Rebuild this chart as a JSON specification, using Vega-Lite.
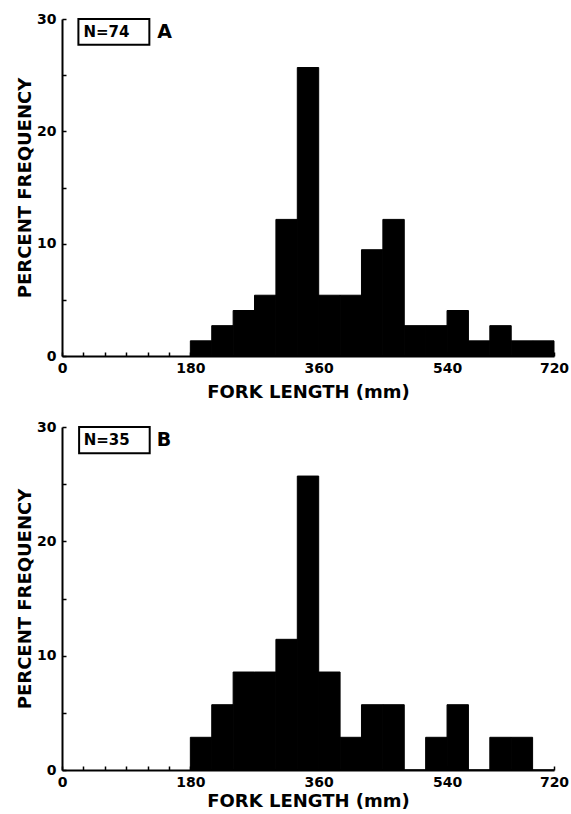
{
  "$schema": "https://vega.github.io/schema/vega-lite/v6.json",
  "padding": {"left": 16, "top": 12, "right": 2, "bottom": 0},
  "spacing": 19,
  "config": {
    "font": "DejaVu Sans",
    "view": {"stroke": null},
    "axis": {
      "domainColor": "black", "domainWidth": 2,
      "tickColor": "black", "tickWidth": 1.5, "tickSize": -4,
      "labelColor": "black", "labelFont": "DejaVu Sans", "labelFontWeight": "bold", "labelFontSize": 14,
      "titleFont": "DejaVu Sans", "titleFontWeight": "bold", "titleFontSize": 18, "titleColor": "black",
      "grid": false, "zindex": 0, "labelOverlap": false
    }
  },
  "datasets": {
    "panelA": [
      {"start": 180, "end": 210, "percent": 1.35},
      {"start": 210, "end": 240, "percent": 2.70},
      {"start": 240, "end": 270, "percent": 4.05},
      {"start": 270, "end": 300, "percent": 5.41},
      {"start": 300, "end": 330, "percent": 12.16},
      {"start": 330, "end": 360, "percent": 25.68},
      {"start": 360, "end": 390, "percent": 5.41},
      {"start": 390, "end": 420, "percent": 5.41},
      {"start": 420, "end": 450, "percent": 9.46},
      {"start": 450, "end": 480, "percent": 12.16},
      {"start": 480, "end": 510, "percent": 2.70},
      {"start": 510, "end": 540, "percent": 2.70},
      {"start": 540, "end": 570, "percent": 4.05},
      {"start": 570, "end": 600, "percent": 1.35},
      {"start": 600, "end": 630, "percent": 2.70},
      {"start": 630, "end": 660, "percent": 1.35},
      {"start": 660, "end": 690, "percent": 1.35}
    ],
    "panelB": [
      {"start": 180, "end": 210, "percent": 2.86},
      {"start": 210, "end": 240, "percent": 5.71},
      {"start": 240, "end": 270, "percent": 8.57},
      {"start": 270, "end": 300, "percent": 8.57},
      {"start": 300, "end": 330, "percent": 11.43},
      {"start": 330, "end": 360, "percent": 25.71},
      {"start": 360, "end": 390, "percent": 8.57},
      {"start": 390, "end": 420, "percent": 2.86},
      {"start": 420, "end": 450, "percent": 5.71},
      {"start": 450, "end": 480, "percent": 5.71},
      {"start": 480, "end": 510, "percent": 0},
      {"start": 510, "end": 540, "percent": 2.86},
      {"start": 540, "end": 570, "percent": 5.71},
      {"start": 570, "end": 600, "percent": 0},
      {"start": 600, "end": 630, "percent": 2.86},
      {"start": 630, "end": 660, "percent": 2.86},
      {"start": 660, "end": 690, "percent": 0}
    ]
  },
  "vconcat": [
    {
      "width": 492, "height": 337,
      "layer": [
        {
          "data": {"name": "panelA"},
          "mark": {"type": "rect", "color": "black", "stroke": "black", "strokeWidth": 1},
          "encoding": {
            "x": {"field": "start", "type": "quantitative",
                  "scale": {"domain": [0, 690], "nice": false, "zero": false},
                  "axis": {"title": "FORK LENGTH (mm)", "values": [0, 30, 60, 90, 120, 150, 180, 360, 540, 690],
                           "labelExpr": "datum.value == 690 ? '720' : (datum.value % 180 == 0 ? datum.label : '')",
                           "labelFlush": false, "labelPadding": 9, "titlePadding": 8}},
            "x2": {"field": "end"},
            "y": {"field": "percent", "type": "quantitative",
                  "scale": {"domain": [0, 30], "nice": false},
                  "axis": {"title": "PERCENT FREQUENCY", "values": [0, 5, 10, 15, 20, 25, 30],
                           "labelExpr": "datum.value % 10 == 0 ? datum.label : ''",
                           "labelPadding": 10, "titlePadding": 2}},
            "y2": {"datum": 0}
          }
        },
        {
          "data": {"values": [{"label": "N=74", "panel": "A"}]},
          "mark": {"type": "rect", "fill": "white", "stroke": "black", "strokeWidth": 2},
          "encoding": {"x": {"datum": 23}, "x2": {"datum": 122.5}, "y": {"datum": 30}, "y2": {"datum": 27.7}}
        },
        {
          "data": {"values": [{"label": "N=74", "panel": "A"}]},
          "mark": {"type": "text", "align": "left", "baseline": "middle", "fontSize": 15, "fontWeight": "bold", "font": "DejaVu Sans", "color": "black"},
          "encoding": {"x": {"datum": 30}, "y": {"datum": 28.85}, "text": {"field": "label"}}
        },
        {
          "data": {"values": [{"label": "N=74", "panel": "A"}]},
          "mark": {"type": "text", "align": "center", "baseline": "middle", "fontSize": 19, "fontWeight": "bold", "font": "DejaVu Sans", "color": "black"},
          "encoding": {"x": {"datum": 144}, "y": {"datum": 28.85}, "text": {"field": "panel"}}
        }
      ]
    },
    {
      "width": 492, "height": 343,
      "layer": [
        {
          "data": {"name": "panelB"},
          "mark": {"type": "rect", "color": "black", "stroke": "black", "strokeWidth": 1},
          "encoding": {
            "x": {"field": "start", "type": "quantitative",
                  "scale": {"domain": [0, 690], "nice": false, "zero": false},
                  "axis": {"title": "FORK LENGTH (mm)", "values": [0, 30, 60, 90, 120, 150, 180, 360, 540, 690],
                           "labelExpr": "datum.value == 690 ? '720' : (datum.value % 180 == 0 ? datum.label : '')",
                           "labelFlush": false, "labelPadding": 9, "titlePadding": 3}},
            "x2": {"field": "end"},
            "y": {"field": "percent", "type": "quantitative",
                  "scale": {"domain": [0, 30], "nice": false},
                  "axis": {"title": "PERCENT FREQUENCY", "values": [0, 5, 10, 15, 20, 25, 30],
                           "labelExpr": "datum.value % 10 == 0 ? datum.label : ''",
                           "labelPadding": 10, "titlePadding": 2}},
            "y2": {"datum": 0}
          }
        },
        {
          "data": {"values": [{"label": "N=35", "panel": "B"}]},
          "mark": {"type": "rect", "fill": "white", "stroke": "black", "strokeWidth": 2},
          "encoding": {"x": {"datum": 24}, "x2": {"datum": 123}, "y": {"datum": 30}, "y2": {"datum": 27.7}}
        },
        {
          "data": {"values": [{"label": "N=35", "panel": "B"}]},
          "mark": {"type": "text", "align": "left", "baseline": "middle", "fontSize": 15, "fontWeight": "bold", "font": "DejaVu Sans", "color": "black"},
          "encoding": {"x": {"datum": 30.5}, "y": {"datum": 28.85}, "text": {"field": "label"}}
        },
        {
          "data": {"values": [{"label": "N=35", "panel": "B"}]},
          "mark": {"type": "text", "align": "center", "baseline": "middle", "fontSize": 19, "fontWeight": "bold", "font": "DejaVu Sans", "color": "black"},
          "encoding": {"x": {"datum": 143}, "y": {"datum": 28.85}, "text": {"field": "panel"}}
        }
      ]
    }
  ]
}
